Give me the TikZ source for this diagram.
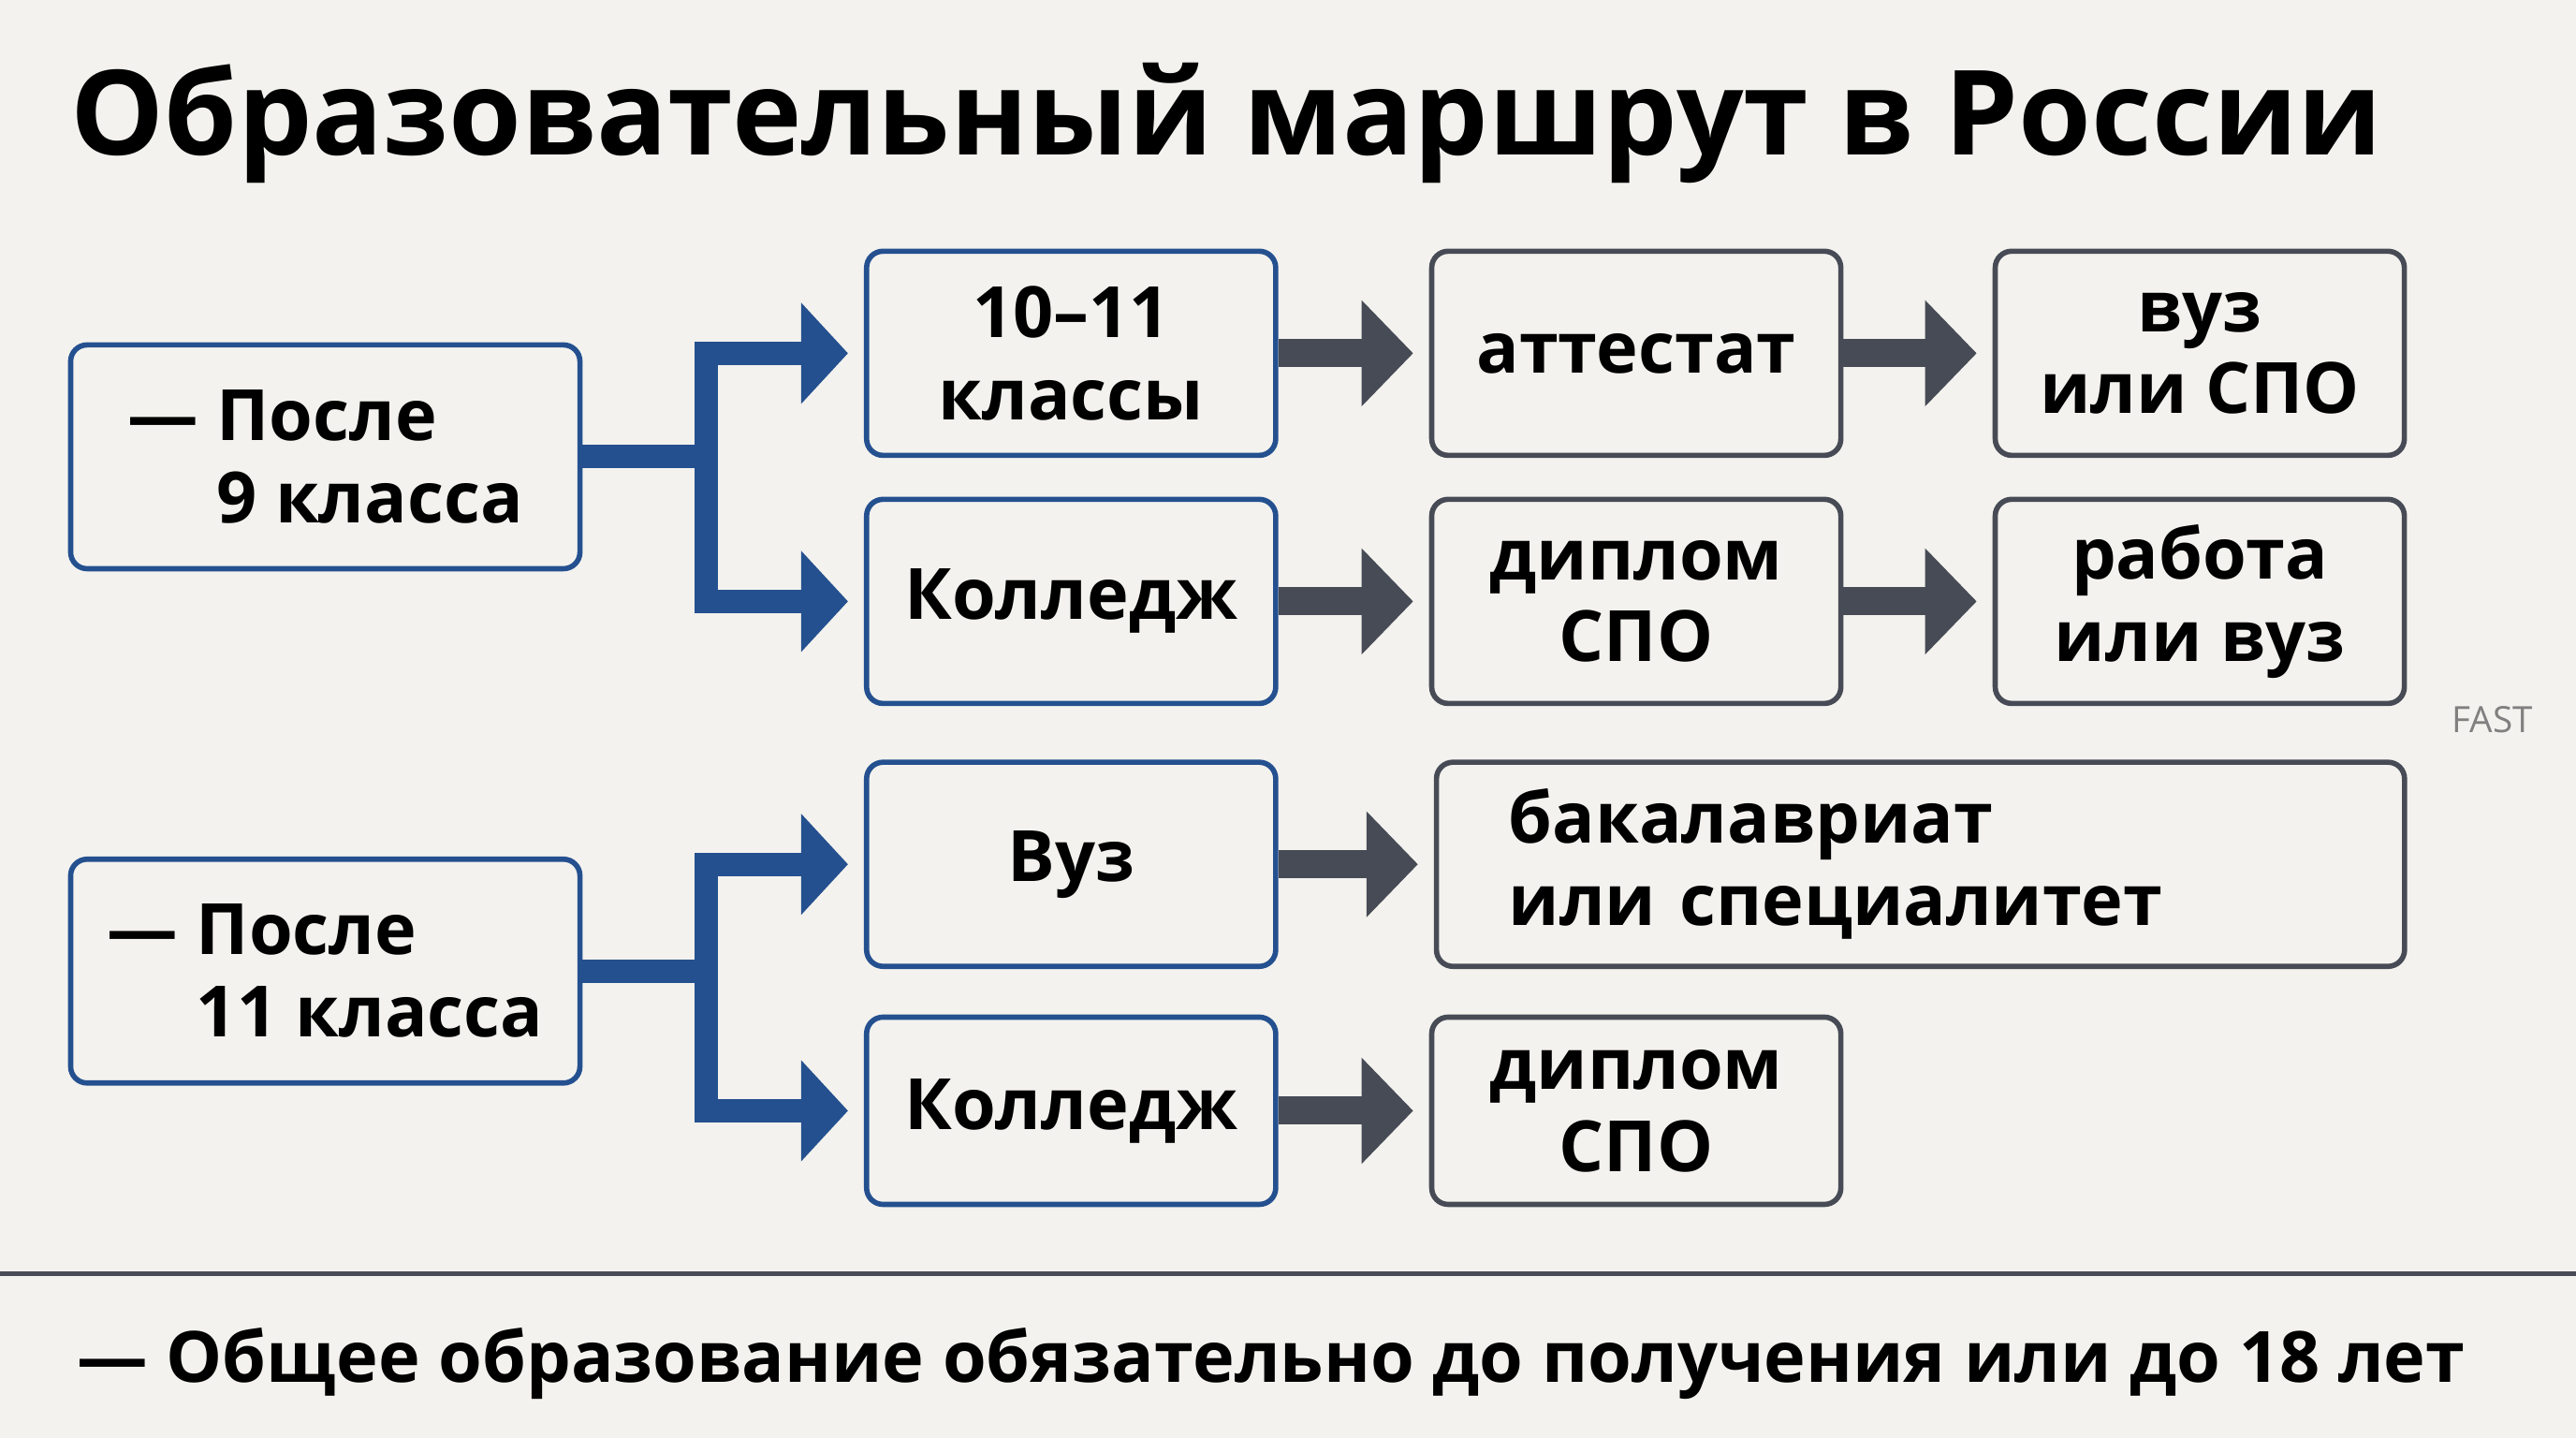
\documentclass[tikz,border=0pt]{standalone}
\usepackage{fontspec}
\setmainfont{Open Sans}
\usetikzlibrary{arrows.meta,positioning}
\definecolor{bgpaper}{HTML}{F3F2EE}
\definecolor{routeblue}{HTML}{24508F}
\definecolor{stepgray}{HTML}{474B55}

\begin{document}
\begin{tikzpicture}[
    x=0.01755cm, y=-0.01755cm,
    box/.style={rectangle, rounded corners=5pt, draw=routeblue, line width=1.6pt, fill=bgpaper, minimum width=4.37cm, minimum height=2.18cm, font=\fontsize{21.5}{25}\selectfont\bfseries, align=center},
    start/.style={box, minimum width=5.44cm, minimum height=2.39cm, align=left},
    result/.style={box, draw=stepgray},
    split/.style={draw=routeblue, line width=0.25cm, -{Triangle[length=0.5cm, width=1.05cm]}, shorten >=0.17cm},
    next/.style={draw=stepgray, line width=0.3cm, -{Triangle[length=0.55cm, width=1.1cm]}, shorten >=0.17cm}
]
\fill[bgpaper] (0,0) rectangle (1568,875);
\useasboundingbox (0,0) rectangle (1568,875);

% Title
\node[anchor=west, font=\fontsize{35.8}{38}\selectfont\bfseries] (title) at (36,75) {Образовательный маршрут в России};

% After 9th grade
\node[start] (after9) at (198,278) {— После\\ \phantom{— }9 класса};
\node[box] (grades) at (652,215) {10–11\\классы};
\node[box] (college9) at (652,366) {Колледж};
\node[result] (certificate) at (996,215) {аттестат};
\node[result] (diploma9) at (996,366) {диплом\\СПО};
\node[result] (uni9) at (1339,215) {вуз\\или СПО};
\node[result] (work9) at (1339,366) {работа\\или вуз};

% After 11th grade
\node[start] (after11) at (198,591) {— После\\ \phantom{— }11 класса};
\node[box] (uni11) at (652,526) {Вуз};
\node[box, minimum height=2.0cm] (college11) at (652,676) {Колледж};
\node[result, minimum width=10.34cm, text width=8.8cm, align=left] (degree) at (1169,526) {бакалавриат\\ или специалитет};
\node[result, minimum height=2.0cm] (diploma11) at (996,676) {диплом\\СПО};

% Branches
\draw[split] (after9.east) -- ++(75,0) |- (grades.west);
\draw[split] (after9.east) -- ++(75,0) |- (college9.west);
\draw[split] (after11.east) -- ++(75,0) |- (uni11.west);
\draw[split] (after11.east) -- ++(75,0) |- (college11.west);

% Steps
\draw[next] (grades) -- (certificate);
\draw[next] (certificate) -- (uni9);
\draw[next] (college9) -- (diploma9);
\draw[next] (diploma9) -- (work9);
\draw[next] (uni11) -- (degree);
\draw[next] (college11) -- (diploma11);

\node[text=gray, font=\fontsize{11}{12}\selectfont] (mark) at (1517,438) {FAST};

% Footer
\draw[stepgray, line width=1.5pt] (0,775) -- (1568,775);
\node[anchor=west, font=\fontsize{21.5}{24}\selectfont\bfseries] (note) at (40,830) {— Общее образование обязательно до получения или до 18 лет};
\end{tikzpicture}
\end{document}
